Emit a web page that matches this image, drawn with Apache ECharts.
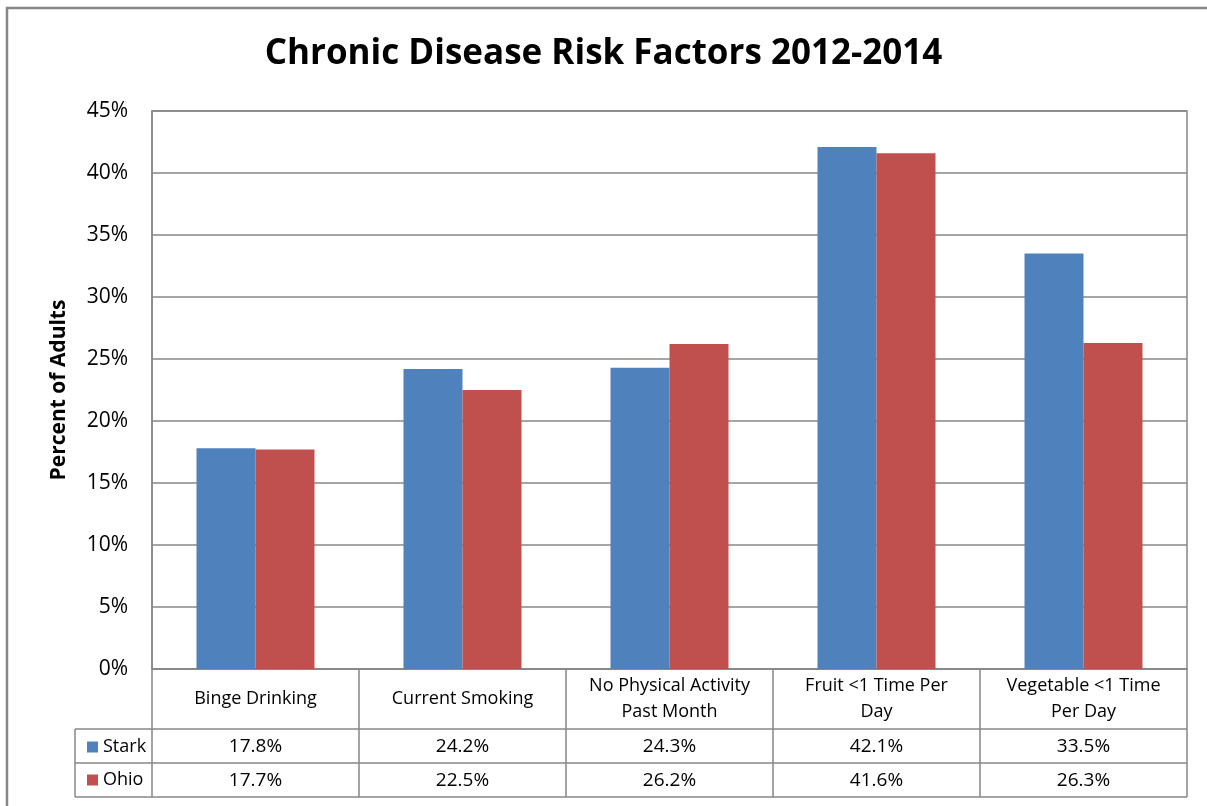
<!DOCTYPE html>
<html>
<head>
<meta charset="utf-8">
<script src="https://cdn.jsdelivr.net/npm/echarts@6/dist/echarts.min.js"></script>
<style>
  html, body { margin: 0; padding: 0; background: #fff; }
  #chart { width: 1207px; height: 806px; }
</style>
</head>
<body>
<div id="chart"></div>
<script>
const title = 'Chronic Disease Risk Factors 2012-2014';
const categories = ['Binge Drinking', 'Current Smoking', 'No Physical Activity\nPast Month', 'Fruit <1 Time Per\nDay', 'Vegetable <1 Time\nPer Day'];
const seriesNames = ['Stark', 'Ohio'];
const stark = [17.8, 24.2, 24.3, 42.1, 33.5];
const ohio = [17.7, 22.5, 26.2, 41.6, 26.3];
const yTicks = [0, 5, 10, 15, 20, 25, 30, 35, 40, 45];
const yAxisName = 'Percent of Adults';

const FONT = "'Open Sans', 'Noto Sans', sans-serif";
const GRAY = '#878787';
const BLUE = '#4F81BD';
const RED = '#C0504D';

const chart = echarts.init(document.getElementById('chart'), null, { renderer: 'canvas' });

const gridLeft = 152, gridRight = 20, gridTop = 111, gridBottom = 137;
const headerH = 60, rowH = 34, legendColLeft = 75;

const option = {
  animation: false,
  backgroundColor: '#fff',
  title: {
    text: title,
    left: 'center',
    top: 32,
    textStyle: { fontFamily: FONT, fontWeight: 'bold', fontSize: 35, color: '#000' }
  },
  legend: {
    orient: 'vertical',
    left: 82,
    top: 733,
    itemWidth: 11,
    itemHeight: 11,
    itemGap: 15,
    icon: 'rect',
    textStyle: { fontFamily: FONT, fontSize: 18, color: '#000' },
    data: seriesNames
  },
  grid: {
    left: gridLeft, right: gridRight, top: gridTop, bottom: gridBottom,
    show: true, borderColor: GRAY, borderWidth: 1.5, containLabel: false
  },
  xAxis: {
    type: 'category',
    data: categories,
    boundaryGap: true,
    axisLine: { show: true, lineStyle: { color: GRAY, width: 1.5 } },
    axisTick: { show: true, length: headerH + 2 * rowH, lineStyle: { color: GRAY, width: 1.5 } },
    axisLabel: {
      interval: 0, margin: headerH / 2, verticalAlign: 'middle',
      fontFamily: FONT, fontSize: 18, color: '#000', lineHeight: 26
    }
  },
  yAxis: {
    type: 'value',
    min: yTicks[0], max: yTicks[yTicks.length - 1], interval: 5,
    name: yAxisName,
    nameLocation: 'middle',
    nameGap: 82,
    nameRotate: 90,
    nameTextStyle: { fontFamily: FONT, fontWeight: 'bold', fontSize: 21, color: '#000' },
    axisLine: { show: true, lineStyle: { color: GRAY, width: 1.5 } },
    axisTick: { show: false },
    axisLabel: { formatter: '{value}%', margin: 24, fontFamily: FONT, fontSize: 21, color: '#000' },
    splitLine: { show: true, lineStyle: { color: GRAY, width: 1.5 } }
  },
  series: [
    { name: seriesNames[0], type: 'bar', data: stark, barWidth: 59, barGap: '0%', itemStyle: { color: BLUE } },
    { name: seriesNames[1], type: 'bar', data: ohio, barWidth: 59, barGap: '0%', itemStyle: { color: RED } }
  ]
};
chart.setOption(option);

// Data table below the axis, positioned from the axis scale
const x0 = chart.convertToPixel({ gridIndex: 0 }, [0, 0]);
const yZero = x0[1];
const plotRight = 1207 - gridRight;
const elements = [];
const lineStyle = { stroke: GRAY, lineWidth: 1.5 };
const row1 = yZero + headerH, row2 = row1 + rowH, row3 = row2 + rowH;
[row1, row2, row3].forEach(y => {
  elements.push({ type: 'line', shape: { x1: legendColLeft, y1: y, x2: plotRight, y2: y }, style: lineStyle, silent: true });
});
elements.push({ type: 'line', shape: { x1: legendColLeft, y1: row1, x2: legendColLeft, y2: row3 }, style: lineStyle, silent: true });
const rows = [stark, ohio];
rows.forEach((vals, r) => {
  vals.forEach((v, i) => {
    const px = chart.convertToPixel({ xAxisIndex: 0 }, i);
    elements.push({
      type: 'text', silent: true,
      x: px, y: row1 + rowH * r + rowH / 2 + 1,
      style: { text: v.toFixed(1) + '%', fontFamily: FONT, fontSize: 19, fill: '#000', align: 'center', verticalAlign: 'middle' }
    });
  });
});
// outer frame
elements.push({ type: 'rect', shape: { x: 7, y: 8, width: 1215, height: 820 }, style: { fill: 'none', stroke: GRAY, lineWidth: 2.5 }, silent: true });
chart.setOption({ graphic: { elements: elements } });
</script>
</body>
</html>
